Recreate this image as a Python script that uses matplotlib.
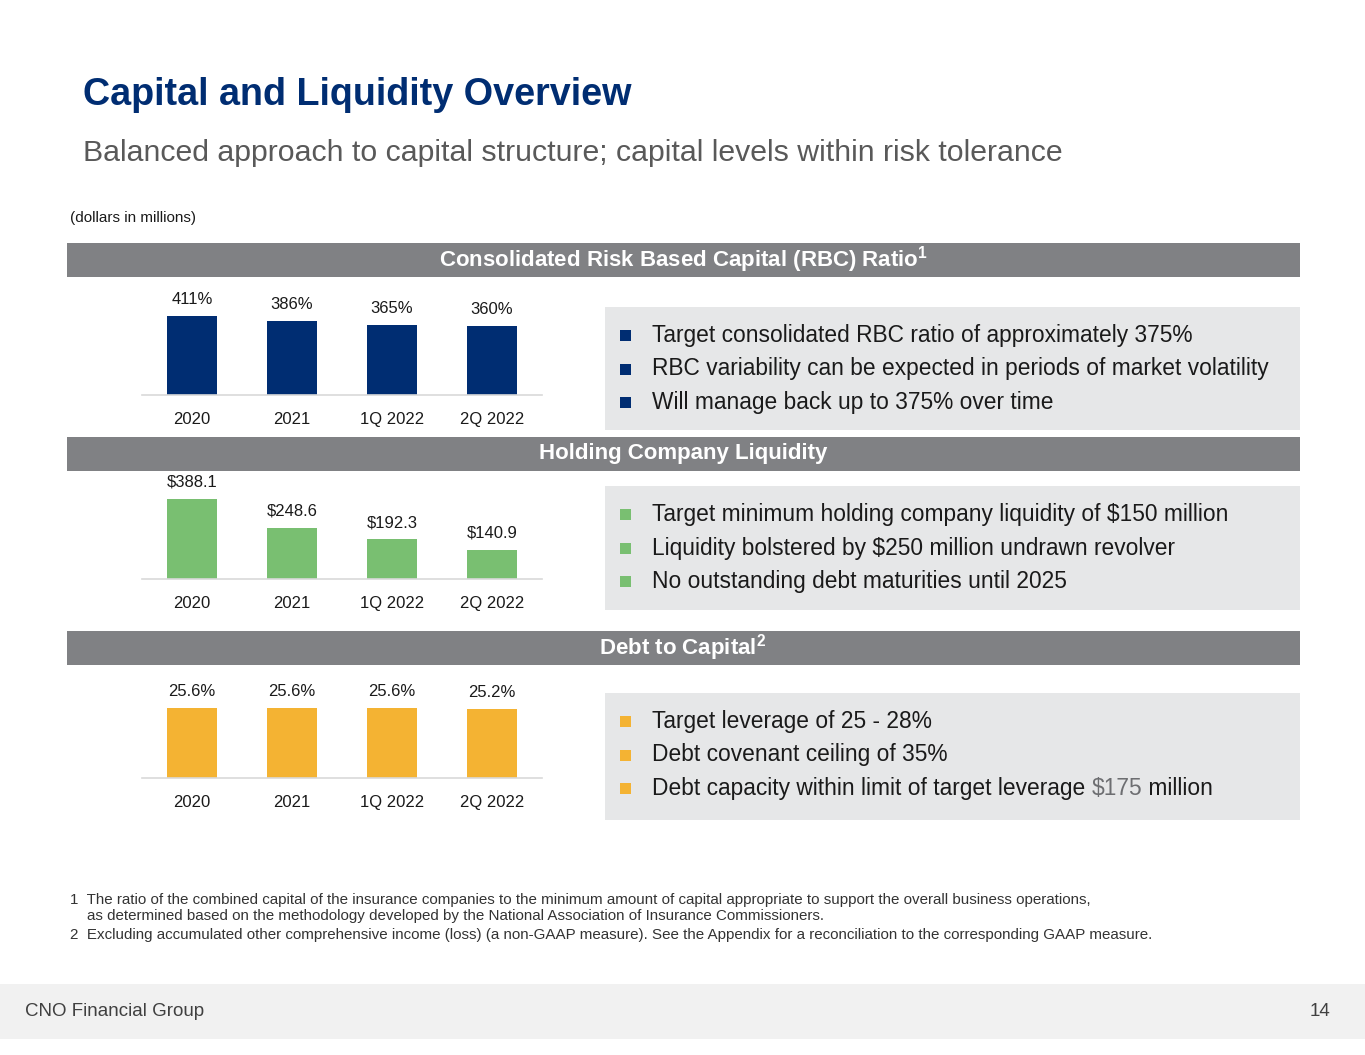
import matplotlib
matplotlib.use("Agg")
import matplotlib.pyplot as plt
from matplotlib.patches import Rectangle

plt.rcParams['font.family'] = ['Liberation Sans', 'DejaVu Sans']
plt.rcParams['mathtext.fontset'] = 'custom'
plt.rcParams['mathtext.rm'] = 'Liberation Sans'
plt.rcParams['mathtext.bf'] = 'Liberation Sans:bold'

# data
periods = ['2020', '2021', '1Q 2022', '2Q 2022']
rbc_ratio = [411, 386, 365, 360]
holdco_liquidity = [388.1, 248.6, 192.3, 140.9]
debt_to_capital = [25.6, 25.6, 25.6, 25.2]

rbc_bullets = ['Target consolidated RBC ratio of approximately 375%',
               'RBC variability can be expected in periods of market volatility',
               'Will manage back up to 375% over time']
liq_bullets = [r'Target minimum holding company liquidity of \$150 million',
               r'Liquidity bolstered by \$250 million undrawn revolver',
               'No outstanding debt maturities until 2025']
debt_bullets = ['Target leverage of 25 - 28%',
                'Debt covenant ceiling of 35%']
debt_last = ['Debt capacity within limit of target leverage ', r'\$175', ' million']

footnotes = ['1  The ratio of the combined capital of the insurance companies to the minimum amount of capital appropriate to support the overall business operations,',
             '    as determined based on the methodology developed by the National Association of Insurance Commissioners.',
             '2  Excluding accumulated other comprehensive income (loss) (a non-GAAP measure). See the Appendix for a reconciliation to the corresponding GAAP measure.']

NAVY = '#002D72'
GREEN = '#79BF71'
ORANGE = '#F4B333'
HEAD_GRAY = '#808184'
BOX_GRAY = '#E6E7E8'
TXT = '#1A1A1A'
BULLET_FS = 16.4

W, H = 1365, 1055
fig = plt.figure(figsize=(W / 100, H / 100), dpi=100)

# background axes in pixel coords
bg = fig.add_axes([0, 0, 1, 1])
bg.set_xlim(0, W)
bg.set_ylim(H, 0)
bg.axis('off')

bg.text(83, 95, 'Capital and Liquidity Overview', fontsize=27.2, fontweight='bold',
        color=NAVY, va='center')
bg.text(83, 153, 'Balanced approach to capital structure; capital levels within risk tolerance',
        fontsize=21.8, color='#595959', va='center')
bg.text(70, 218, '(dollars in millions)', fontsize=11, color=TXT, va='center')

headers = [(243, r'Consolidated Risk Based Capital (RBC) Ratio$^{\mathbf{1}}$'),
           (437, 'Holding Company Liquidity'),
           (631, r'Debt to Capital$^{\mathbf{2}}$')]
for y0, label in headers:
    bg.add_patch(Rectangle((67, y0), 1233, 34, color=HEAD_GRAY, lw=0))
    bg.text(683, y0 + 17, label, fontsize=16, fontweight='bold', color='white',
            ha='center', va='center')

# bullet boxes
boxes = [(307, 123, NAVY, rbc_bullets), (486, 124, GREEN, liq_bullets),
         (693, 127, ORANGE, debt_bullets)]
line_y = {}
for y0, h, col, lines in boxes:
    bg.add_patch(Rectangle((605, y0), 695, h, color=BOX_GRAY, lw=0))
    ys = [y0 + 28.5 + 33.5 * i for i in range(3)]
    line_y[col] = ys
    for yy in ys:
        bg.add_patch(Rectangle((620, yy - 5.5), 11, 11, color=col, lw=0))
    for yy, t in zip(ys, lines):
        bg.text(652, yy, t, fontsize=BULLET_FS, color=TXT, va='center')

# last debt bullet with the gray amount
fig.canvas.draw()
renderer = fig.canvas.get_renderer()
x = 652
yy = line_y[ORANGE][2]
for part, c in zip(debt_last, [TXT, '#6D6E71', TXT]):
    t = bg.text(x, yy, part, fontsize=BULLET_FS, color=c, va='center')
    bb = t.get_window_extent(renderer)
    x = bg.transData.inverted().transform((bb.x1, 0))[0]

# footnotes
for yy, t in zip([900, 916, 935], footnotes):
    bg.text(70, yy, t, fontsize=10.9, color='#333333', va='center')

# footer
bg.add_patch(Rectangle((0, 984), W, 55, color='#F1F1F1', lw=0))
bg.text(25, 1011, 'CNO Financial Group', fontsize=13.5, color='#404040', va='center')
bg.text(1330, 1011, '14', fontsize=13.5, color='#404040', va='center', ha='right')


def bar_panel(vals, fmt, color, base_px, top_px, px_per_unit):
    h = base_px - top_px
    ax = fig.add_axes([142 / W, 1 - base_px / H, 400 / W, h / H])
    ax.set_zorder(2)
    ax.patch.set_alpha(0)
    xs = range(len(vals))
    ax.bar(xs, vals, width=0.5, color=color)
    ax.set_xlim(-0.5, len(vals) - 0.5)
    ax.set_ylim(0, h / px_per_unit)
    for s in ['top', 'right', 'left']:
        ax.spines[s].set_visible(False)
    ax.spines['bottom'].set_color('#D9D9D9')
    ax.spines['bottom'].set_linewidth(1.2)
    ax.set_yticks([])
    ax.set_xticks(list(xs))
    ax.set_xticklabels(periods, fontsize=12, color=TXT)
    ax.tick_params(axis='x', length=0, pad=12)
    for i, v in enumerate(vals):
        ax.annotate(fmt.format(v), (i, v), xytext=(0, 12), textcoords='offset points',
                    ha='center', va='center', fontsize=12, color=TXT)
    return ax


bar_panel(rbc_ratio, '{:.0f}%', NAVY, 395, 280, 0.192)
bar_panel(holdco_liquidity, r'\${:.1f}', GREEN, 579, 474, 0.207)
bar_panel(debt_to_capital, '{:.1f}%', ORANGE, 778, 668, 2.73)

fig.savefig('out.png', dpi=100)
